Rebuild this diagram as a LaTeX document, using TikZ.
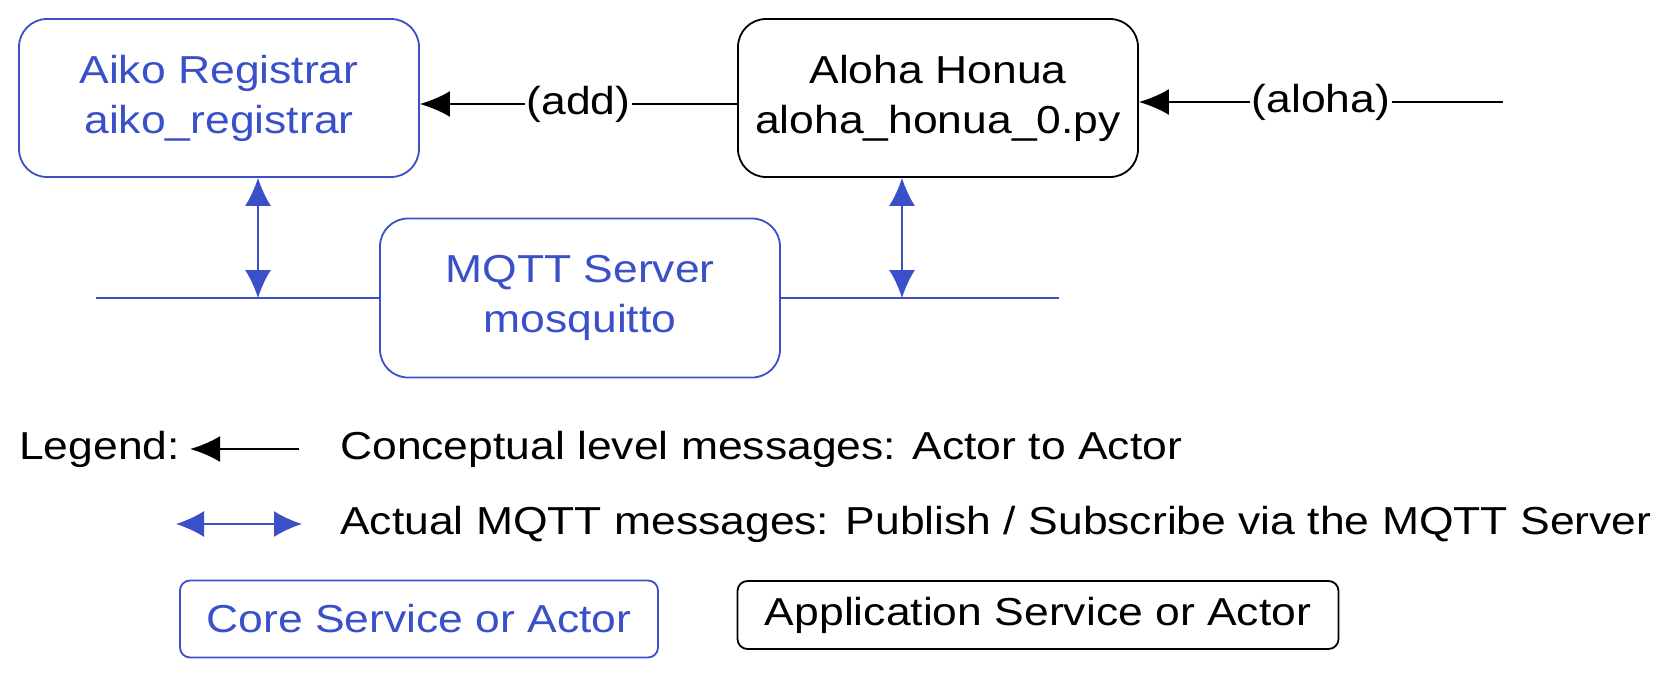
\documentclass[tikz,border=0pt]{standalone}
\usepackage{fontspec}
\setmainfont[FakeStretch=1.14]{Liberation Sans}
\usetikzlibrary{arrows.meta,positioning}
\definecolor{coreblue}{RGB}{58,80,200}

\begin{document}
\begin{tikzpicture}[
    x=1pt, y=-1pt,
    every node/.style={font=\fontsize{39}{50}\selectfont},
    actor/.style={draw, rounded corners=28pt, line width=1.8pt, align=center, minimum width=400pt, minimum height=158pt},
    core/.style={actor, draw=coreblue, text=coreblue},
    app/.style={actor, draw=black, text=black},
    keybox/.style={draw, rounded corners=10pt, line width=1.8pt, inner sep=0pt},
    bus/.style={coreblue, line width=2.2pt},
    carr/.style={-{Latex[length=30pt,width=26pt]}, line width=2.2pt},
    marr/.style={{Latex[length=28pt,width=26pt]}-{Latex[length=28pt,width=26pt]}, coreblue, line width=1.6pt},
    lbl/.style={fill=white, inner sep=2pt},
    keytext/.style={anchor=west, inner sep=0pt},
  ]

  \useasboundingbox (0,0) rectangle (1677,680);

  % actors
  \node[core] (aiko) at (219,98) {Aiko Registrar\\aiko\_registrar};
  \node[app] (aloha) at (938,98) {Aloha Honua\\aloha\_honua\_0.py};
  \node[core, minimum height=159pt] (mqtt) at (580,298) {MQTT Server\\mosquitto};

  % bus
  \coordinate (busL) at (96,298);
  \coordinate (busR) at (1059,298);
  \draw[bus] (busL) -- (mqtt.west);
  \draw[bus] (mqtt.east) -- (busR);

  \coordinate (aikoTap) at (258,298);
  \coordinate (alohaTap) at (902,298);
  \draw[marr] (aikoTap |- aiko.south) -- (aikoTap);
  \draw[marr] (alohaTap |- aloha.south) -- (alohaTap);

  % conceptual messages
  \draw[carr] ([yshift=-6pt]aloha.west) -- node[lbl] {(add)} ([yshift=-6pt]aiko.east);
  \coordinate (alohaIn) at (1503,102);
  \draw[carr] (alohaIn) -- node[lbl] {(aloha)} (alohaIn -| aloha.east);

  % legend
  \node[keytext] (legend) at (19,449) {Legend:};
  \node[keytext] (concept) at (340,449) {Conceptual level messages: Actor to Actor};
  \node[keytext] (actual) at (340,524) {Actual MQTT messages: Publish / Subscribe via the MQTT Server};
  \draw[carr] ([xshift=-41pt]concept.west) -- ([xshift=10pt]legend.east);
  \coordinate (keyL) at (176,524);
  \coordinate (keyR) at (302,524);
  \draw[marr] (keyL) -- (keyR);

  \node[keybox, draw=coreblue, text=coreblue, minimum width=478pt, minimum height=77pt] (corekey) at (419,619) {Core Service or Actor};
  \node[keybox, draw=black, minimum width=601pt, minimum height=68pt] (appkey) at (1038,615) {Application Service or Actor};

\end{tikzpicture}
\end{document}
